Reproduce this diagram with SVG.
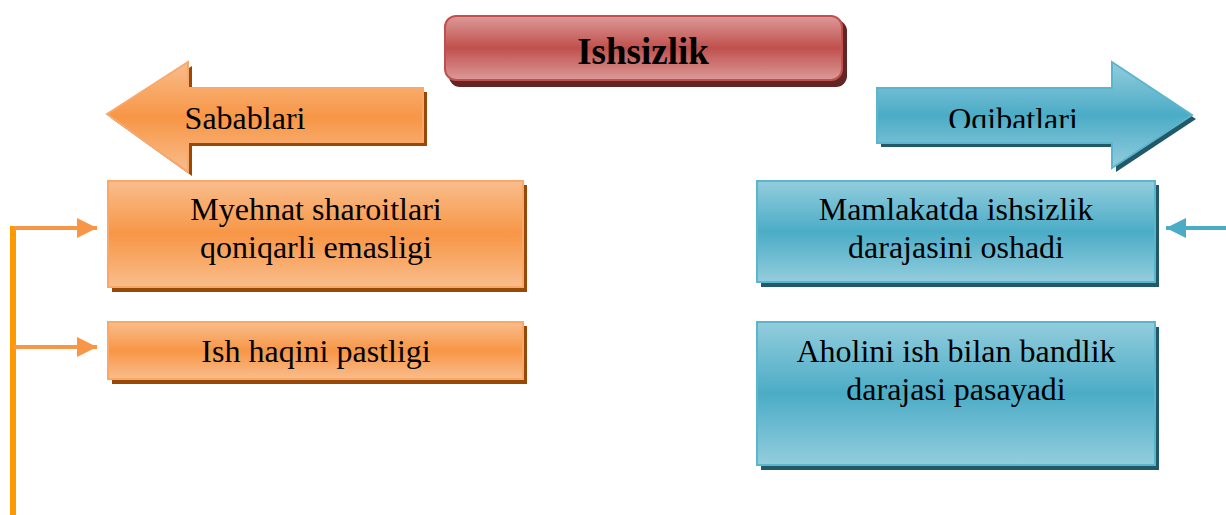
<svg xmlns="http://www.w3.org/2000/svg" width="1226" height="515" viewBox="0 0 1226 515">
<defs>
<linearGradient id="gRed" x1="0" y1="0" x2="0" y2="1">
<stop offset="0" stop-color="#dc9a98"/><stop offset="0.5" stop-color="#c0504d"/><stop offset="1" stop-color="#dc9a98"/>
</linearGradient>
<linearGradient id="gOr" x1="0" y1="0" x2="0" y2="1">
<stop offset="0" stop-color="#f9bd8c"/><stop offset="0.5" stop-color="#f79646"/><stop offset="1" stop-color="#f9bd8c"/>
</linearGradient>
<linearGradient id="gBl" x1="0" y1="0" x2="0" y2="1">
<stop offset="0" stop-color="#93cddd"/><stop offset="0.5" stop-color="#4bacc6"/><stop offset="1" stop-color="#93cddd"/>
</linearGradient>
<marker id="mOr" viewBox="0 0 10 10" refX="10" refY="5" markerWidth="5" markerHeight="5" markerUnits="strokeWidth" orient="auto">
<path d="M0,0 L10,5 L0,10 Z" fill="#f79646"/>
</marker>
<marker id="mBl" viewBox="0 0 10 10" refX="10" refY="5" markerWidth="5" markerHeight="5" markerUnits="strokeWidth" orient="auto">
<path d="M0,0 L10,5 L0,10 Z" fill="#4bacc6"/>
</marker>
<clipPath id="clipOq"><rect x="877" y="60" width="320" height="68"/></clipPath>
<style>
text{font-family:"Liberation Serif","Times New Roman",serif;font-size:32px;fill:#000;text-anchor:middle}
.title{font-weight:bold;font-size:37px}
.or{fill:url(#gOr);stroke:#f9a86a;stroke-width:2}
.orS{fill:#984807}
.bl{fill:url(#gBl);stroke:#5bb5cd;stroke-width:2}
.blS{fill:#215968}
</style>
</defs>
<rect width="1226" height="515" fill="#fff"/>
<g id="connectors">
<line x1="13" y1="226" x2="13" y2="515" stroke="#ff9900" stroke-width="6"/>
<line x1="13" y1="228" x2="97" y2="228" stroke="#f79646" stroke-width="4" marker-end="url(#mOr)"/>
<line x1="13" y1="347" x2="97" y2="347" stroke="#f79646" stroke-width="4" marker-end="url(#mOr)"/>
<line x1="1226" y1="228" x2="1166" y2="228" stroke="#4bacc6" stroke-width="4" marker-end="url(#mBl)"/>
</g>
<g id="ishsizlik">
<rect x="449" y="20" width="398" height="67" rx="11" fill="#632523"/>
<rect x="445" y="16" width="397" height="64" rx="11" fill="url(#gRed)" stroke="#c0504d" stroke-width="2"/>
<text class="title" x="643" y="64">Ishsizlik</text>
</g>
<g id="sabablari">
<polygon class="orS" points="111,118 192,66 192,92 427,92 427,146 192,146 192,176"/>
<polygon class="or" points="107,114 188,62 188,88 423,88 423,142 188,142 188,172"/>
<text x="245" y="129">Sabablari</text>
</g>
<g id="oqibatlari">
<polygon class="blS" points="881,92 1116,92 1116,66 1196,119 1116,172 1116,147 881,147"/>
<polygon class="bl" points="877,88 1112,88 1112,62 1192,115 1112,168 1112,143 877,143"/>
<text x="1013" y="130" clip-path="url(#clipOq)">Oqibatlari</text>
</g>
<g id="sabab1">
<rect class="orS" x="112" y="185" width="415" height="107"/>
<rect class="or" x="108" y="181" width="415" height="106"/>
<text x="316" y="220">Myehnat sharoitlari</text>
<text x="316" y="258">qoniqarli emasligi</text>
</g>
<g id="sabab2">
<rect class="orS" x="112" y="326" width="415" height="58"/>
<rect class="or" x="108" y="322" width="415" height="57"/>
<text x="316" y="362">Ish haqini pastligi</text>
</g>
<g id="oqibat1">
<rect class="blS" x="761" y="185" width="398" height="102"/>
<rect class="bl" x="757" y="181" width="398" height="101"/>
<text x="956" y="220">Mamlakatda ishsizlik</text>
<text x="956" y="258">darajasini oshadi</text>
</g>
<g id="oqibat2">
<rect class="blS" x="761" y="327" width="398" height="143"/>
<rect class="bl" x="757" y="322" width="398" height="143"/>
<text x="956" y="362">Aholini ish bilan bandlik</text>
<text x="956" y="400">darajasi pasayadi</text>
</g>
</svg>
